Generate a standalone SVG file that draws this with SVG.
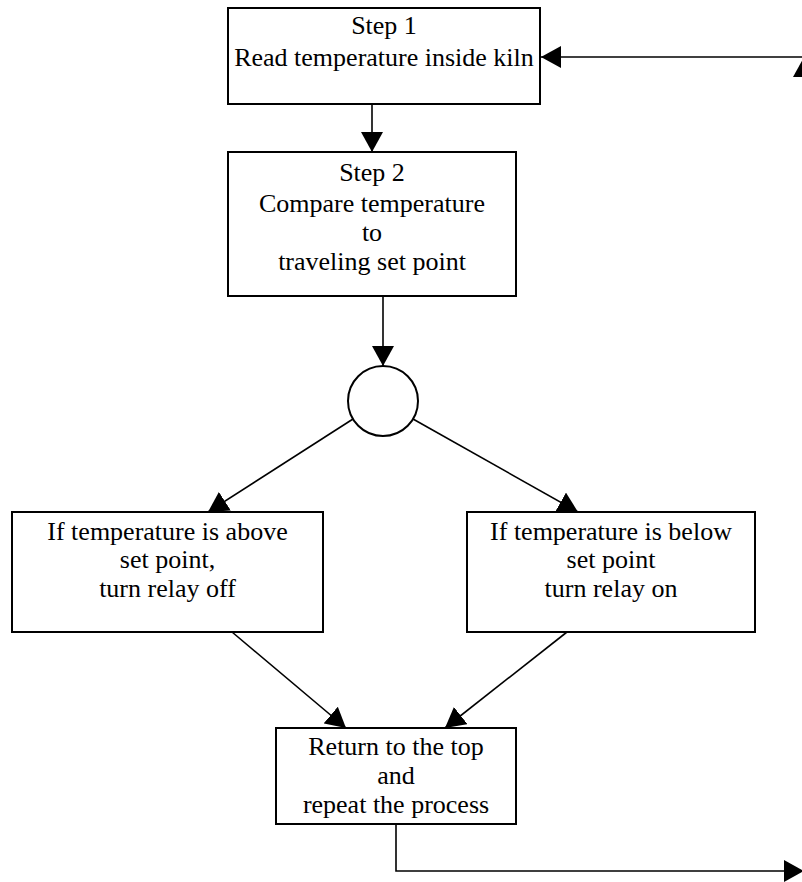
<svg xmlns="http://www.w3.org/2000/svg" width="802" height="882" viewBox="0 0 802 882">
<style>
.box{fill:#fff;stroke:#000;stroke-width:2}
.t{font-family:"Liberation Serif","Times New Roman",serif;font-size:26px;fill:#000;text-anchor:middle}
.c{fill:none;stroke:#000;stroke-width:1.6;marker-end:url(#ah)}
</style>
<defs>
<marker id="ah" markerUnits="userSpaceOnUse" markerWidth="20" markerHeight="22" viewBox="0 0 20 22" refX="20" refY="11" orient="auto">
<path d="M0,0 L20,11 L0,22 Z" fill="#000"/>
</marker>
</defs>
<rect width="802" height="882" fill="#fff"/>
<g id="connectors">
<line class="c" x1="372" y1="104" x2="372" y2="152"/>
<line class="c" x1="383" y1="296" x2="383" y2="366"/>
<line class="c" x1="353" y1="419" x2="208" y2="512"/>
<line class="c" x1="413" y1="419" x2="578" y2="512"/>
<line class="c" x1="232" y1="632" x2="346" y2="728"/>
<line class="c" x1="567" y1="632" x2="445" y2="728"/>
<polyline class="c" points="396,824 396,871 804,871"/>
<line class="c" x1="804" y1="871" x2="804" y2="57"/>
<line class="c" x1="804" y1="57" x2="541" y2="57"/>
</g>
<g id="step1">
<rect class="box" x="228" y="8" width="312" height="96"/>
<text class="t" x="384" y="34">Step 1</text>
<text class="t" x="384" y="66">Read temperature inside kiln</text>
</g>
<g id="step2">
<rect class="box" x="228" y="152" width="288" height="144"/>
<text class="t" x="372" y="181">Step 2</text>
<text class="t" x="372" y="212">Compare temperature</text>
<text class="t" x="372" y="241">to</text>
<text class="t" x="372" y="270">traveling set point</text>
</g>
<g id="decision">
<circle class="box" cx="383" cy="401" r="35"/>
</g>
<g id="above">
<rect class="box" x="12" y="512" width="311" height="120"/>
<text class="t" x="167.5" y="540">If temperature is above</text>
<text class="t" x="167.5" y="568">set point,</text>
<text class="t" x="167.5" y="597">turn relay off</text>
</g>
<g id="below">
<rect class="box" x="467" y="512" width="288" height="120"/>
<text class="t" x="611" y="540">If temperature is below</text>
<text class="t" x="611" y="568">set point</text>
<text class="t" x="611" y="597">turn relay on</text>
</g>
<g id="return">
<rect class="box" x="276" y="728" width="240" height="96"/>
<text class="t" x="396" y="755">Return to the top</text>
<text class="t" x="396" y="784">and</text>
<text class="t" x="396" y="813">repeat the process</text>
</g>
</svg>
